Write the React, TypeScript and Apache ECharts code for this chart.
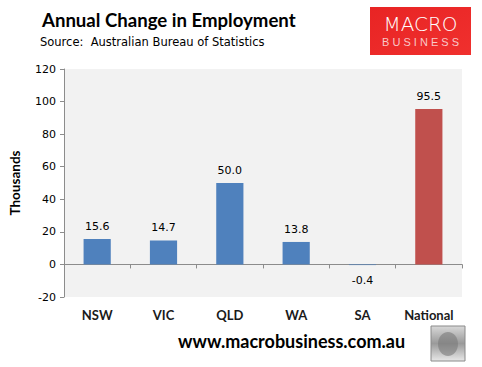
import React, { useEffect, useRef } from "react";
import * as echarts from "echarts";

const categories = ["NSW", "VIC", "QLD", "WA", "SA", "National"];
const values = [15.6, 14.7, 50.0, 13.8, -0.4, 95.5];
const barColors = ["#4F81BD", "#4F81BD", "#4F81BD", "#4F81BD", "#4F81BD", "#C0504D"];
const yMin = -20;
const yMax = 120;
const yStep = 20;

export default function App() {
  const ref = useRef<HTMLDivElement>(null);
  useEffect(() => {
    if (!ref.current) return;
    const chart = echarts.init(ref.current, null, { renderer: "svg" });
    const fontNum = "DejaVu Sans";
    chart.setOption({
      animation: false,
      backgroundColor: "#ffffff",
      grid: {
        left: 62,
        right: 20,
        top: 69,
        bottom: 70,
        show: true,
        backgroundColor: "#F2F2F2",
        borderWidth: 0,
      },
      xAxis: [
        {
          type: "category",
          data: categories,
          axisLine: { onZero: true, lineStyle: { color: "#8C8C8C", width: 1 } },
          axisTick: { show: true, length: 4, lineStyle: { color: "#8C8C8C" } },
          axisLabel: { show: false },
        },
        {
          type: "category",
          data: categories,
          position: "bottom",
          axisLine: { show: false, onZero: false },
          axisTick: { show: false },
          axisLabel: {
            show: true,
            margin: 11,
            color: "#1a1a1a",
            fontWeight: "bold",
            fontSize: 13,
            fontFamily: "Lato",
          },
        },
      ],
      yAxis: {
        type: "value",
        min: yMin,
        max: yMax,
        interval: yStep,
        name: "Thousands",
        nameLocation: "middle",
        nameGap: 42,
        nameRotate: 90,
        nameTextStyle: { fontSize: 13.5, fontWeight: "bold", color: "#000", fontFamily: "Lato" },
        axisLine: { show: true, lineStyle: { color: "#8C8C8C" } },
        axisTick: { show: true, length: 4, lineStyle: { color: "#8C8C8C" } },
        splitLine: { show: false },
        axisLabel: { color: "#000", fontSize: 11, fontFamily: fontNum, margin: 8 },
      },
      series: [
        {
          type: "bar",
          xAxisIndex: 0,
          barWidth: "41%",
          data: values.map((v, i) => ({
            value: v,
            itemStyle: { color: barColors[i] },
            label: v < 0 ? { position: "bottom", distance: 10 } : undefined,
          })),
          label: {
            show: true,
            position: "top",
            distance: 7,
            color: "#000",
            fontSize: 11,
            fontFamily: fontNum,
            formatter: (p: any) => Number(p.value).toFixed(1),
          },
        },
      ],
      graphic: [
        {
          type: "text",
          left: 42,
          top: 10,
          style: { text: "Annual Change in Employment", fontSize: 18.6, fontWeight: "bold", fontFamily: "Lato", fill: "#000" },
        },
        {
          type: "text",
          left: 40,
          top: 36,
          style: { text: "Source:  Australian Bureau of Statistics", fontSize: 11.5, fontFamily: "DejaVu Sans", fill: "#000" },
        },
        {
          type: "rect",
          shape: { x: 370, y: 7, width: 101, height: 48 },
          style: {
            fill: new echarts.graphic.LinearGradient(0, 0, 1, 1, [
              { offset: 0, color: "#E82424" },
              { offset: 1, color: "#F0302E" },
            ]),
          },
        },
        {
          type: "text",
          x: 420.5,
          y: 24,
          style: { text: "MACRO", fontSize: 20, fontFamily: "DejaVu Sans", fontWeight: 300, fill: "#ffffff", align: "center", verticalAlign: "middle" },
        },
        {
          type: "text",
          x: 420.5,
          y: 42,
          style: { text: "B U S I N E S S", fontSize: 11, fontFamily: "Liberation Sans", fill: "#F8C8C8", align: "center", verticalAlign: "middle" },
        },
        {
          type: "text",
          left: 178,
          top: 332,
          style: { text: "www.macrobusiness.com.au", fontSize: 18, fontWeight: "bold", fontFamily: "Lato", fill: "#000" },
        },
        {
          type: "rect",
          shape: { x: 431, y: 326, width: 34, height: 35 },
          style: {
            fill: new echarts.graphic.LinearGradient(0, 0, 0, 1, [
              { offset: 0, color: "#d8d8d8" },
              { offset: 0.5, color: "#9a9a9a" },
              { offset: 1, color: "#e8e8e8" },
            ]),
            stroke: "#8a8a8a",
            lineWidth: 1,
          },
        },
        {
          type: "ellipse",
          shape: { cx: 448, cy: 344, rx: 10, ry: 12 },
          style: { fill: "#7a7a7a", opacity: 0.6 },
        },
      ],
    });
    return () => chart.dispose();
  }, []);
  return <div ref={ref} style={{ width: 482, height: 367, position: "absolute", left: 0, top: 0 }} />;
}
